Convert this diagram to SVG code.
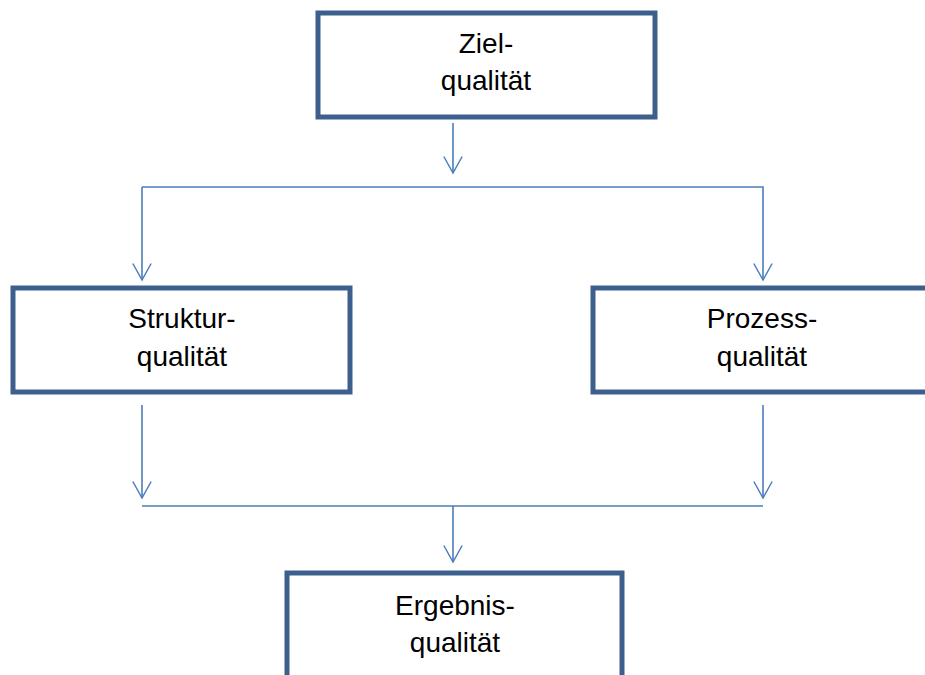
<svg xmlns="http://www.w3.org/2000/svg" width="925" height="675" viewBox="0 0 925 675">
<style>
.box{fill:#fff;stroke:#3D5F8E;stroke-width:5}
.lbl{font-family:"Liberation Sans",Arial,sans-serif;font-size:28px;fill:#000;text-anchor:middle}
.ln{fill:none;stroke:#4A7EBB;stroke-width:1.6}
</style>
<defs>
<marker id="ah" markerUnits="userSpaceOnUse" markerWidth="24" markerHeight="22" viewBox="-20 -12 22 24" refX="0" refY="0" orient="auto" overflow="visible">
<path d="M-18,-10 L0,0 L-18,10" fill="none" stroke="#4A7EBB" stroke-width="1.6"/>
</marker>
</defs>
<rect width="925" height="675" fill="#fff"/>
<g id="connectors">
<line class="ln" x1="453" y1="123" x2="453" y2="173" marker-end="url(#ah)"/>
<polyline class="ln" points="142,187 763,187 763,280" marker-end="url(#ah)"/>
<line class="ln" x1="142" y1="187" x2="142" y2="280" marker-end="url(#ah)"/>
<line class="ln" x1="142" y1="405" x2="142" y2="498" marker-end="url(#ah)"/>
<line class="ln" x1="763" y1="405" x2="763" y2="498" marker-end="url(#ah)"/>
<line class="ln" x1="142" y1="506" x2="763" y2="506"/>
<line class="ln" x1="453" y1="506" x2="453" y2="562" marker-end="url(#ah)"/>
</g>
<g id="ziel">
<rect class="box" x="318" y="13" width="337" height="104"/>
<text class="lbl" x="486" y="53">Ziel-</text>
<text class="lbl" x="486" y="90">qualität</text>
</g>
<g id="struktur">
<rect class="box" x="13" y="288" width="337" height="104"/>
<text class="lbl" x="182" y="328">Struktur-</text>
<text class="lbl" x="182" y="366">qualität</text>
</g>
<g id="prozess">
<rect class="box" x="593" y="288" width="340" height="104"/>
<text class="lbl" x="762" y="328">Prozess-</text>
<text class="lbl" x="762" y="366">qualität</text>
</g>
<g id="ergebnis">
<rect class="box" x="287" y="573" width="335" height="120"/>
<text class="lbl" x="455" y="615">Ergebnis-</text>
<text class="lbl" x="455" y="652">qualität</text>
</g>
</svg>
